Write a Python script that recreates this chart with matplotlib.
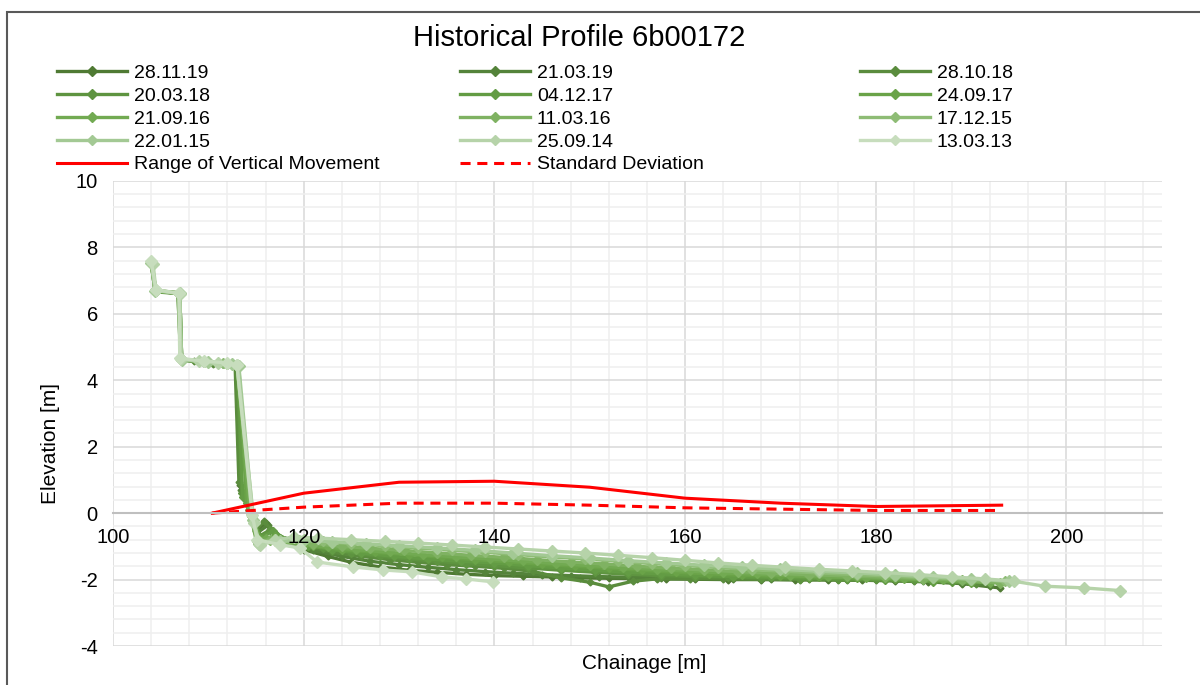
import matplotlib.pyplot as plt
from matplotlib.ticker import MultipleLocator
from matplotlib.patches import Rectangle

plt.rcParams['font.family'] = ['Liberation Sans', 'DejaVu Sans']
plt.rcParams['axes.unicode_minus'] = False

# survey dates, newest first
dates = ['28.11.19', '21.03.19', '28.10.18', '20.03.18', '04.12.17', '24.09.17',
         '21.09.16', '11.03.16', '17.12.15', '22.01.15', '25.09.14', '13.03.13']
colors = ['#4F7A33', '#54833A', '#5A8C3D', '#5E9440', '#639C44', '#6AA348',
          '#72AA52', '#7FB262', '#8EBC75', '#A3C994', '#B6D3A9', '#C7DDBD']

x1 = [104.0, 104.5, 106.9, 107.1, 109.0, 111.0, 112.9, 113.3, 114.3, 115.0, 116.0, 117.2, 118.5, 120.0, 122.5, 125.0, 128.0, 131.0, 134.0, 137.0, 140.0, 143.0, 146.0, 149.0, 152.0, 155.0, 158.0, 161.0, 164.5, 168.0, 171.5, 175.0, 178.5, 182.0, 185.5, 189.0, 193.0]
y1 = [7.55, 6.68, 6.62, 4.62, 4.56, 4.52, 4.45, 0.85, 0.20, -0.55, -0.30, -0.70, -0.90, -1.10, -1.30, -1.48, -1.62, -1.72, -1.78, -1.84, -1.88, -1.90, -1.92, -1.95, -1.96, -1.97, -1.98, -1.99, -2.00, -2.00, -2.01, -2.01, -2.02, -2.04, -2.07, -2.12, -2.25]

x2 = [104.0, 104.4, 107.0, 107.2, 109.5, 112.0, 113.0, 113.4, 114.4, 115.1, 116.3, 117.5, 119.0, 121.0, 124.0, 127.0, 130.0, 133.0, 136.0, 139.0, 142.0, 145.0, 148.0, 151.0, 154.0, 157.5, 161.0, 165.0, 169.0, 173.0, 177.0, 181.0, 185.0, 189.0, 192.0]
y2 = [7.52, 6.70, 6.60, 4.64, 4.55, 4.50, 4.42, 0.70, 0.10, -0.60, -0.35, -0.75, -0.92, -1.12, -1.30, -1.45, -1.55, -1.63, -1.70, -1.76, -1.81, -1.85, -1.88, -1.91, -1.93, -1.95, -1.96, -1.97, -1.98, -1.99, -2.00, -2.02, -2.05, -2.10, -2.18]

x3 = [104.1, 104.5, 106.8, 107.1, 108.5, 110.5, 112.8, 113.2, 114.2, 115.0, 115.8, 117.0, 118.8, 120.5, 123.0, 126.0, 129.0, 132.0, 135.0, 138.0, 141.0, 144.0, 147.0, 150.0, 152.0, 154.5, 157.0, 160.5, 164.0, 168.0, 172.0, 176.0, 180.0, 184.0, 188.0, 190.5]
y3 = [7.50, 6.66, 6.61, 4.60, 4.57, 4.50, 4.47, 0.95, 0.25, -0.50, -0.25, -0.60, -0.88, -1.00, -1.18, -1.30, -1.40, -1.48, -1.55, -1.60, -1.66, -1.75, -1.95, -2.08, -2.22, -2.05, -1.98, -1.97, -1.98, -1.99, -2.00, -2.01, -2.02, -2.04, -2.08, -2.12]

x4 = [104.0, 104.4, 107.0, 107.2, 109.0, 111.5, 113.0, 113.5, 114.6, 115.3, 116.5, 118.0, 120.0, 122.0, 125.0, 128.0, 131.0, 134.0, 137.0, 140.0, 143.5, 147.0, 150.5, 154.0, 157.5, 161.0, 164.5, 168.0, 172.0, 176.0, 180.0, 184.0, 188.0]
y4 = [7.54, 6.70, 6.63, 4.62, 4.58, 4.50, 4.44, 0.60, 0.00, -0.70, -0.50, -0.80, -0.95, -1.05, -1.20, -1.30, -1.38, -1.45, -1.52, -1.58, -1.65, -1.72, -1.78, -1.84, -1.88, -1.91, -1.93, -1.95, -1.97, -1.98, -1.99, -2.01, -2.06]

x5 = [104.0, 104.5, 106.9, 107.1, 109.5, 112.0, 113.1, 113.6, 114.5, 115.2, 116.8, 118.5, 120.5, 123.0, 126.0, 129.5, 133.0, 136.5, 140.0, 143.5, 147.0, 150.5, 154.0, 157.5, 161.0, 165.0, 169.0, 173.0, 177.0, 181.0, 186.0]
y5 = [7.53, 6.69, 6.62, 4.63, 4.56, 4.49, 4.43, 0.50, -0.10, -0.75, -0.55, -0.85, -0.98, -1.10, -1.20, -1.30, -1.38, -1.45, -1.50, -1.58, -1.65, -1.72, -1.78, -1.83, -1.87, -1.91, -1.93, -1.96, -1.98, -2.00, -2.06]

x6 = [104.1, 104.4, 107.0, 107.2, 110.0, 112.5, 113.2, 114.0, 114.8, 115.5, 117.0, 119.0, 121.0, 124.0, 127.5, 131.0, 134.5, 138.0, 141.5, 145.0, 148.5, 152.0, 155.5, 159.0, 162.5, 166.0, 170.0, 174.0, 178.0, 182.0, 186.0, 190.0]
y6 = [7.51, 6.68, 6.61, 4.61, 4.55, 4.48, 4.40, 0.30, -0.30, -0.78, -0.70, -0.90, -1.00, -1.10, -1.18, -1.25, -1.33, -1.40, -1.47, -1.54, -1.60, -1.66, -1.72, -1.78, -1.83, -1.87, -1.90, -1.93, -1.95, -1.98, -2.02, -2.10]

x7 = [104.0, 104.5, 106.8, 107.1, 109.0, 111.0, 113.0, 114.3, 115.0, 116.0, 117.8, 120.0, 122.5, 125.5, 129.0, 132.5, 136.0, 139.5, 143.0, 146.5, 150.0, 153.5, 157.0, 160.5, 164.0, 167.5, 171.0, 175.0, 179.0, 183.0, 187.0, 192.0]
y7 = [7.55, 6.70, 6.62, 4.64, 4.57, 4.52, 4.45, 0.10, -0.80, -0.75, -0.88, -0.95, -1.02, -1.10, -1.18, -1.25, -1.32, -1.38, -1.45, -1.52, -1.58, -1.64, -1.70, -1.75, -1.80, -1.84, -1.88, -1.92, -1.95, -1.98, -2.02, -2.10]

x8 = [104.0, 104.4, 107.0, 107.2, 109.5, 112.0, 113.1, 114.5, 115.1, 116.5, 118.5, 121.0, 124.0, 127.0, 130.5, 134.0, 137.5, 141.0, 144.5, 148.0, 151.5, 155.0, 158.5, 162.0, 165.5, 169.0, 173.0, 177.0, 181.0, 185.0, 189.0, 193.0]
y8 = [7.52, 6.71, 6.63, 4.62, 4.56, 4.50, 4.42, 0.00, -0.85, -0.80, -0.85, -0.92, -1.00, -1.06, -1.12, -1.20, -1.27, -1.33, -1.40, -1.47, -1.53, -1.60, -1.66, -1.71, -1.76, -1.81, -1.85, -1.89, -1.93, -1.97, -2.02, -2.10]

x9 = [104.0, 104.5, 106.9, 107.1, 109.0, 111.5, 113.0, 114.6, 115.2, 117.0, 119.5, 122.0, 125.0, 128.5, 132.0, 135.5, 139.0, 142.5, 146.0, 149.5, 153.0, 156.5, 160.0, 163.5, 167.0, 170.5, 174.0, 178.0, 182.0, 186.0, 190.0, 193.5]
y9 = [7.56, 6.69, 6.61, 4.63, 4.57, 4.51, 4.44, -0.10, -0.90, -0.78, -0.80, -0.85, -0.92, -0.98, -1.05, -1.12, -1.18, -1.25, -1.32, -1.38, -1.45, -1.52, -1.58, -1.64, -1.70, -1.75, -1.80, -1.85, -1.90, -1.95, -2.00, -2.05]

x10 = [104.0, 104.4, 107.0, 107.2, 110.0, 112.5, 113.2, 114.7, 115.3, 117.5, 120.0, 123.0, 126.5, 130.0, 134.0, 138.0, 142.0, 146.0, 150.0, 154.0, 158.0, 162.0, 166.0, 170.0, 174.0, 178.0, 182.0, 186.0, 190.0, 194.0]
y10 = [7.54, 6.70, 6.62, 4.62, 4.55, 4.48, 4.42, -0.20, -0.92, -0.85, -0.82, -0.86, -0.92, -0.98, -1.05, -1.12, -1.20, -1.28, -1.35, -1.43, -1.50, -1.57, -1.63, -1.69, -1.75, -1.80, -1.86, -1.92, -1.98, -2.05]

x11 = [104.2, 104.5, 107.0, 107.1, 109.0, 111.0, 113.0, 114.8, 115.4, 117.0, 119.0, 121.5, 125.0, 128.5, 132.0, 135.5, 139.0, 142.5, 146.0, 149.5, 153.0, 156.5, 160.0, 163.5, 167.0, 170.5, 174.0, 177.5, 181.0, 184.5, 188.0, 191.5, 194.5, 197.7, 201.8, 205.6]
y11 = [7.50, 6.72, 6.60, 4.65, 4.58, 4.52, 4.45, -0.30, -0.95, -0.80, -0.72, -0.75, -0.80, -0.85, -0.90, -0.96, -1.02, -1.08, -1.14, -1.20, -1.27, -1.34, -1.42, -1.50, -1.57, -1.63, -1.69, -1.74, -1.79, -1.85, -1.92, -1.98, -2.05, -2.20, -2.25, -2.33]

x12 = [104.0, 104.5, 106.9, 107.0, 109.5, 112.0, 113.0, 114.6, 115.1, 117.5, 119.6, 121.4, 125.2, 128.3, 131.4, 134.5, 137.0, 139.9]
y12 = [7.58, 6.72, 6.62, 4.66, 4.58, 4.52, 4.46, -0.05, -0.80, -0.95, -1.05, -1.47, -1.62, -1.71, -1.77, -1.92, -1.98, -2.07]

range_x = [110.4, 120.0, 130.0, 140.0, 150.0, 160.0, 170.0, 180.0, 193.2]
range_y = [0.00, 0.60, 0.93, 0.96, 0.78, 0.45, 0.30, 0.20, 0.24]
std_x = [110.4, 120.0, 130.0, 140.0, 150.0, 160.0, 170.0, 180.0, 193.2]
std_y = [0.00, 0.18, 0.30, 0.30, 0.24, 0.16, 0.12, 0.08, 0.08]

xs = [x1, x2, x3, x4, x5, x6, x7, x8, x9, x10, x11, x12]
ys = [y1, y2, y3, y4, y5, y6, y7, y8, y9, y10, y11, y12]
msizes = [3.5, 3.5, 3.5, 4, 4, 4.5, 4.5, 5, 5.5, 6, 6.5, 6.5]

rect = [0.0942, 0.0569, 0.874, 0.679]
fig = plt.figure(figsize=(12, 6.85), dpi=100)
ax = fig.add_axes(rect)

handles = []
for x, y, c, d, m in zip(xs, ys, colors, dates, msizes):
    h, = ax.plot(x, y, color=c, lw=2.4, marker='D', ms=m, mfc=c, mec=c, label=d)
    handles.append(h)

rng, = ax.plot(range_x, range_y, color='#FF0000', lw=2.2, label='Range of Vertical Movement')
std, = ax.plot(std_x, std_y, color='#FF0000', lw=2.2, label='Standard Deviation')
std.set_dashes([3.3, 2.2])

ax.set_xlim(100, 210)
ax.set_ylim(-4, 10)
ax.xaxis.set_major_locator(MultipleLocator(20))
ax.xaxis.set_minor_locator(MultipleLocator(4))
ax.yaxis.set_major_locator(MultipleLocator(2))
ax.yaxis.set_minor_locator(MultipleLocator(0.4))
ax.grid(which='major', color='#d9d9d9', lw=1.1)
ax.grid(which='minor', color='#efefef', lw=1.1)
ax.set_axisbelow(True)

for s in ['top', 'right', 'left']:
    ax.spines[s].set_visible(False)
ax.spines['bottom'].set_position(('data', 0))
ax.spines['bottom'].set_color('#bfbfbf')
ax.spines['bottom'].set_linewidth(1.5)
ax.tick_params(which='both', length=0, labelsize=14.5)
ax.tick_params(axis='x', labelbottom=False)
ax.tick_params(axis='y', pad=11)

# x tick labels sit on top of the data, so draw them on a clear overlay axes
ax2 = fig.add_axes(rect, facecolor='none')
ax2.set_xlim(100, 210)
ax2.set_ylim(-4, 10)
ax2.xaxis.set_major_locator(MultipleLocator(20))
ax2.set_yticks([])
for s in ['top', 'right', 'left', 'bottom']:
    ax2.spines[s].set_visible(False)
ax2.spines['bottom'].set_position(('data', 0))
ax2.tick_params(length=0, labelsize=14.5, pad=11)

fig.text(0.537, 0.032, 'Chainage [m]', ha='center', va='center', fontsize=15)
fig.text(0.042, 0.353, 'Elevation [m]', ha='center', va='center', fontsize=15, rotation=90)
fig.text(0.483, 0.945, 'Historical Profile 6b00172', ha='center', va='center', fontsize=21)

cols = [
    [handles[0], handles[3], handles[6], handles[9], rng],
    [handles[1], handles[4], handles[7], handles[10], std],
    [handles[2], handles[5], handles[8], handles[11]],
]
for hs, xpos in zip(cols, [57 / 1200, 460 / 1200, 860 / 1200]):
    leg = fig.legend(handles=hs, loc='upper left', bbox_to_anchor=(xpos, 0.906),
                     frameon=False, fontsize=14, borderpad=0, borderaxespad=0,
                     handlelength=3.6, handletextpad=0.35, labelspacing=0.27)
    for lh in leg.legend_handles:
        lh.set_markersize(5)

fig.add_artist(Rectangle((7 / 1200, -0.05), 1.1, 0.9825 + 0.05, transform=fig.transFigure,
                         fill=False, edgecolor='#595959', lw=1.5))

fig.savefig('out.png', dpi=100)
